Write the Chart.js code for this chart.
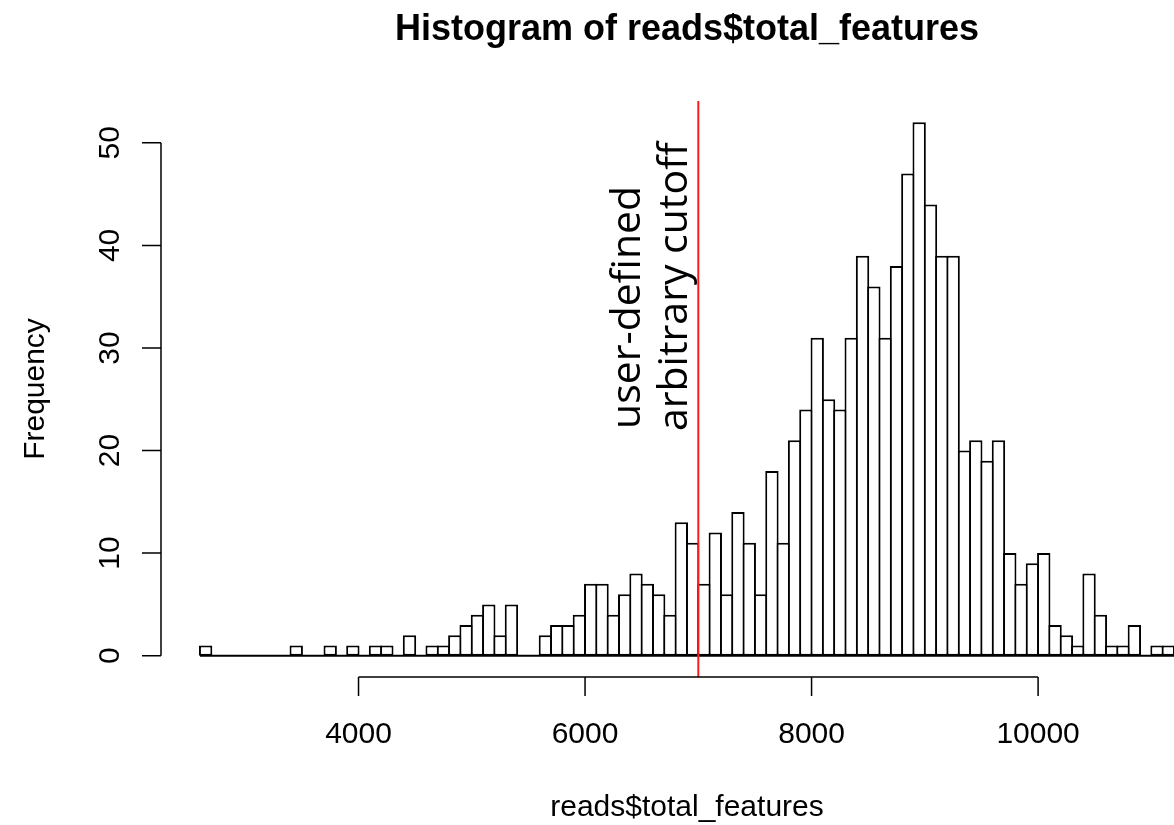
<!DOCTYPE html>
<html>
<head>
<meta charset="utf-8">
<title>Histogram of reads$total_features</title>
<script src="https://cdn.jsdelivr.net/npm/chart.js@4.4.1/dist/chart.umd.min.js"></script>
<style>
  html, body { margin: 0; padding: 0; background: #fff; }
  canvas { display: block; }
</style>
</head>
<body>
<canvas id="hist" width="1174" height="825"></canvas>
<script>
// Datos del histograma (cortes de 100 en 100)
const binWidth = 100;
const binLeft = [
  2600, 2700, 2800, 2900, 3000, 3100, 3200, 3300, 3400, 3500,
  3600, 3700, 3800, 3900, 4000, 4100, 4200, 4300, 4400, 4500,
  4600, 4700, 4800, 4900, 5000, 5100, 5200, 5300, 5400, 5500,
  5600, 5700, 5800, 5900, 6000, 6100, 6200, 6300, 6400, 6500,
  6600, 6700, 6800, 6900, 7000, 7100, 7200, 7300, 7400, 7500,
  7600, 7700, 7800, 7900, 8000, 8100, 8200, 8300, 8400, 8500,
  8600, 8700, 8800, 8900, 9000, 9100, 9200, 9300, 9400, 9500,
  9600, 9700, 9800, 9900, 10000, 10100, 10200, 10300, 10400, 10500,
  10600, 10700, 10800, 10900, 11000, 11100
];
const counts = [
  1, 0, 0, 0, 0, 0, 0, 0, 1, 0,
  0, 1, 0, 1, 0, 1, 1, 0, 2, 0,
  1, 1, 2, 3, 4, 5, 2, 5, 0, 0,
  2, 3, 3, 4, 7, 7, 4, 6, 8, 7,
  6, 4, 13, 11, 7, 12, 6, 14, 11, 6,
  18, 11, 21, 24, 31, 25, 24, 31, 39, 36,
  31, 38, 47, 52, 44, 39, 39, 20, 21, 19,
  21, 10, 7, 9, 10, 3, 2, 1, 8, 4,
  1, 1, 3, 0, 1, 1
];
const xTicks = [4000, 6000, 8000, 10000];
const yTicks = [0, 10, 20, 30, 40, 50];
const cutoff = 7000;

const mainTitle = 'Histogram of reads$total_features';
const xTitle = 'reads$total_features';
const yTitle = 'Frequency';
const cutoffLines = ['user-defined', 'arbitrary cutoff'];

const sansFont = '"Liberation Sans", Arial, Helvetica, sans-serif';

// Ejes al estilo de R, dibujados con las escalas del gráfico
const rAxes = {
  id: 'rAxes',
  afterDatasetsDraw(chart) {
    const ctx = chart.ctx;
    const x = chart.scales.x;
    const y = chart.scales.y;
    const area = chart.chartArea;
    const y0 = y.getPixelForValue(0);

    ctx.save();
    // línea base del histograma
    ctx.strokeStyle = '#000';
    ctx.lineWidth = 2;
    ctx.beginPath();
    ctx.moveTo(x.getPixelForValue(binLeft[0]), y0);
    ctx.lineTo(x.getPixelForValue(binLeft[binLeft.length - 1] + binWidth), y0);
    ctx.stroke();

    // línea de corte
    ctx.strokeStyle = '#ff1a1a';
    ctx.lineWidth = 2;
    const xc = x.getPixelForValue(cutoff);
    ctx.beginPath();
    ctx.moveTo(xc, area.top);
    ctx.lineTo(xc, area.bottom);
    ctx.stroke();

    // eje x
    ctx.strokeStyle = '#000';
    ctx.lineWidth = 1.5;
    const xa = area.bottom;
    ctx.beginPath();
    ctx.moveTo(x.getPixelForValue(xTicks[0]), xa);
    ctx.lineTo(x.getPixelForValue(xTicks[xTicks.length - 1]), xa);
    xTicks.forEach(t => {
      const px = x.getPixelForValue(t);
      ctx.moveTo(px, xa);
      ctx.lineTo(px, xa + 19);
    });
    ctx.stroke();

    ctx.fillStyle = '#000';
    ctx.font = '30px ' + sansFont;
    ctx.textAlign = 'center';
    ctx.textBaseline = 'alphabetic';
    xTicks.forEach(t => {
      ctx.fillText(String(t), x.getPixelForValue(t), xa + 66);
    });

    // eje y
    const ya = area.left;
    ctx.beginPath();
    ctx.moveTo(ya, y.getPixelForValue(yTicks[0]));
    ctx.lineTo(ya, y.getPixelForValue(yTicks[yTicks.length - 1]));
    yTicks.forEach(t => {
      const py = y.getPixelForValue(t);
      ctx.moveTo(ya, py);
      ctx.lineTo(ya - 19, py);
    });
    ctx.stroke();

    yTicks.forEach(t => {
      ctx.save();
      ctx.translate(ya - 42, y.getPixelForValue(t));
      ctx.rotate(-Math.PI / 2);
      ctx.fillText(String(t), 0, 0);
      ctx.restore();
    });

    // títulos
    const midX = x.getPixelForValue(6900);
    const midY = (area.top + area.bottom) / 2;
    ctx.fillText(xTitle, midX, xa + 139);

    ctx.save();
    ctx.translate(44, midY);
    ctx.rotate(-Math.PI / 2);
    ctx.fillText(yTitle, 0, 0);
    ctx.restore();

    ctx.font = 'bold 36px ' + sansFont;
    ctx.fillText(mainTitle, midX, 40);

    // texto del corte
    ctx.font = '41px "Open Sans", "Noto Sans", sans-serif';
    ctx.textAlign = 'left';
    const baseX = [640, 687];
    const startY = [429, 431];
    cutoffLines.forEach((s, i) => {
      ctx.save();
      ctx.translate(baseX[i], startY[i]);
      ctx.rotate(-Math.PI / 2);
      ctx.fillText(s, 0, 0);
      ctx.restore();
    });
    ctx.restore();
  }
};

const ctx = document.getElementById('hist').getContext('2d');
const histChart = new Chart(ctx, {
  type: 'bar',
  data: {
    datasets: [{
      label: yTitle,
      data: binLeft.map((b, i) => ({ x: b + binWidth / 2, y: counts[i] })),
      backgroundColor: '#ffffff',
      borderColor: '#000000',
      borderWidth: 2,
      borderSkipped: false,
      barPercentage: 1.18,
      categoryPercentage: 1
    }]
  },
  options: {
    responsive: false,
    animation: false,
    devicePixelRatio: 1,
    layout: { padding: { left: 161, top: 101, right: 0, bottom: 148 } },
    scales: {
      x: { type: 'linear', display: false, offset: false, min: 2256, max: 11200 },
      y: { type: 'linear', display: false, min: -2.08, max: 54.08 }
    },
    plugins: {
      legend: { display: false },
      title: { display: false },
      tooltip: { enabled: false }
    }
  },
  plugins: [rAxes]
});
</script>
</body>
</html>
